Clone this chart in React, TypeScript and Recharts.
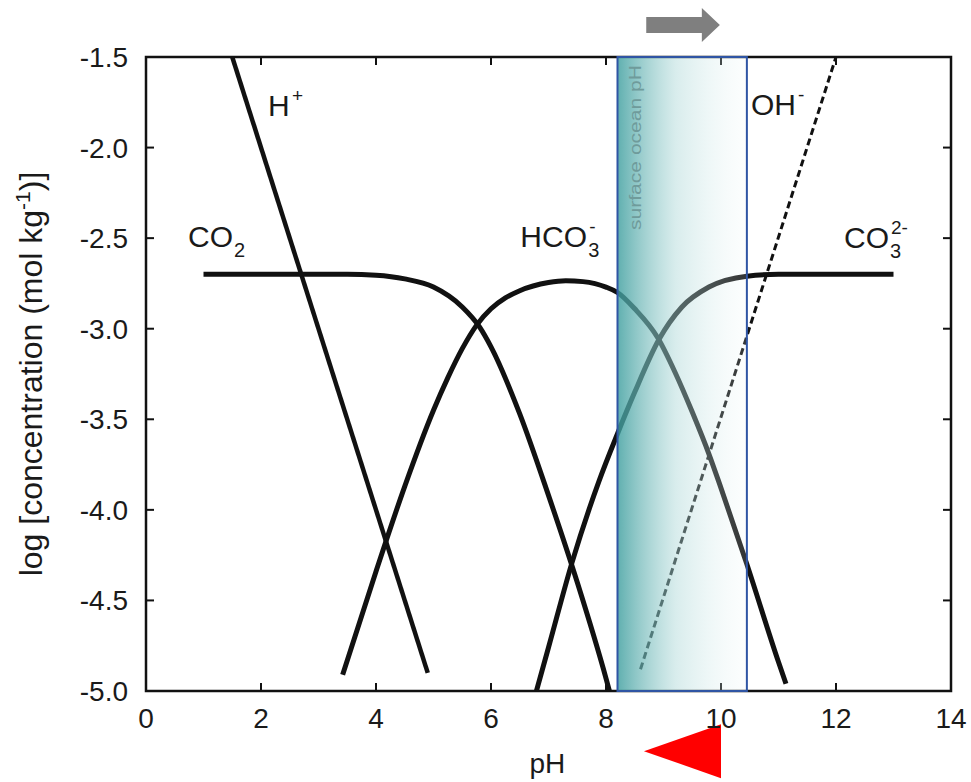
import React from 'react';
import { LineChart, Line, XAxis, YAxis, ReferenceArea, ReferenceDot, ReferenceLine } from 'recharts';

// ---- data (pH, log concentration) ----
const co2PH = [1.0, 2.0, 3.0, 3.5, 4.0, 4.5, 5.0, 5.5, 5.8, 6.0, 6.5, 7.0, 7.5, 8.0, 8.06];
const co2Log = [-2.7, -2.7, -2.7, -2.7, -2.705, -2.725, -2.77, -2.88, -2.99, -3.1, -3.47, -3.92, -4.4, -4.93, -5.0];

const hco3PH = [3.42, 4.0, 4.5, 5.0, 5.25, 5.5, 5.75, 6.0, 6.25, 6.5, 7.0, 7.3, 7.6, 8.0, 8.2, 8.5, 8.9, 9.2, 9.5, 9.8, 10.0, 10.45, 11.0, 11.13];
const hco3Log = [-4.91, -4.34, -3.87, -3.45, -3.27, -3.11, -2.98, -2.89, -2.83, -2.79, -2.745, -2.735, -2.74, -2.77, -2.8, -2.89, -3.05, -3.24, -3.46, -3.7, -3.88, -4.3, -4.84, -4.96];

const co3PH = [6.79, 7.0, 7.41, 7.88, 8.2, 8.5, 8.92, 9.32, 9.79, 10.45, 11.0, 12.0, 13.0];
const co3Log = [-5.0, -4.76, -4.29, -3.84, -3.58, -3.35, -3.06, -2.88, -2.77, -2.71, -2.7, -2.7, -2.7];

const hPH = [1.5, 4.9];
const hLog = [-1.5, -4.9];

const ohPH = [8.6, 12.0];
const ohLog = [-4.88, -1.5];

const xTicks = [0, 2, 4, 6, 8, 10, 12, 14];
const yTicks = [-5.0, -4.5, -4.0, -3.5, -3.0, -2.5, -2.0, -1.5];
const xDomain = [0, 14];
const yDomain = [-5, -1.5];

const surfaceBand = [8.2, 10.45];
const grayArrow = [8.7, 9.98, -1.323];
const redArrow = [8.66, 10.0, -5.332];

// label anchor points (pH, log)
const labelH = [2.12, -1.826];
const labelCO2 = [0.73, -2.549];
const labelHCO3 = [6.51, -2.549];
const labelOH = [10.52, -1.82];
const labelCO3 = [12.14, -2.555];
const labelBand = [8.61, -2.455];
const labelYTitle = [-1.806, -3.25];
const labelXTitle = [6.98, -5.453];

const mk = (xs: number[], ys: number[]) => xs.map((x, i) => ({ x, y: ys[i] }));

const co2Data = mk(co2PH, co2Log);
const hco3Data = mk(hco3PH, hco3Log);
const co3Data = mk(co3PH, co3Log);
const hData = mk(hPH, hLog);
const ohData = mk(ohPH, ohLog);

const FONT = '"Liberation Sans", Arial, Helvetica, sans-serif';
const TXT = '#1a1a1a';
const LS = 30;
const INK = '#111';

const speciesText = (main: string, mainW: number, sub?: string, sup?: string) => (p: any) => {
  const { cx, cy } = p;
  return (
    <g fontFamily={FONT} fill={TXT}>
      <text x={cx} y={cy} fontSize={LS}>{main}</text>
      {sub ? <text x={cx + mainW + 1} y={cy + 10} fontSize={20}>{sub}</text> : null}
      {sup ? <text x={cx + mainW + 2} y={cy - 14} fontSize={19}>{sup}</text> : null}
    </g>
  );
};

const bandText = (p: any) => {
  const { cx, cy } = p;
  return (
    <text
      x={cx}
      y={cy}
      transform={`rotate(-90, ${cx}, ${cy})`}
      fontFamily={FONT}
      fontSize={16}
      fill="#6f9b9b"
      textLength={165}
      lengthAdjust="spacingAndGlyphs"
    >
      surface ocean pH
    </text>
  );
};

const yTitle = (p: any) => {
  const { cx, cy } = p;
  return (
    <text
      x={cx}
      y={cy}
      transform={`rotate(-90, ${cx}, ${cy})`}
      fontFamily={FONT}
      fontSize={32}
      fill={TXT}
      textAnchor="middle"
    >
      log [concentration (mol kg
      <tspan dy={-12} fontSize={21}>-1</tspan>
      <tspan dy={12}>)]</tspan>
    </text>
  );
};

const xTitle = (p: any) => {
  const { cx, cy } = p;
  return (
    <text x={cx} y={cy} fontFamily={FONT} fontSize={28} fill={TXT} textAnchor="middle">
      pH
    </text>
  );
};

const grayArrowShape = (p: any) => {
  const { x1, y1, x2 } = p;
  const head = 18;
  const xs = x2 - head;
  const d = `M${x1},${y1 - 8} L${xs},${y1 - 8} L${xs},${y1 - 17} L${x2},${y1} L${xs},${y1 + 17} L${xs},${y1 + 8} L${x1},${y1 + 8} Z`;
  return <path d={d} fill="#7f7f7f" stroke="none" />;
};

const redArrowShape = (p: any) => {
  const { x1, y1, x2 } = p;
  const d = `M${x1},${y1} L${x2},${y1 - 27} L${x2},${y1 + 27} Z`;
  return <path d={d} fill="#ff0000" stroke="none" />;
};

// inward tick marks on both opposite frame sides
const TL = 8;
const vTickShape = (p: any) => {
  const { x1, y1, y2 } = p;
  const top = Math.min(y1, y2);
  const bot = Math.max(y1, y2);
  return (
    <g stroke={INK} strokeWidth={2}>
      <line x1={x1} y1={top} x2={x1} y2={top + TL} />
      <line x1={x1} y1={bot} x2={x1} y2={bot - TL} />
    </g>
  );
};
const hTickShape = (p: any) => {
  const { x1, x2, y1 } = p;
  const l = Math.min(x1, x2);
  const r = Math.max(x1, x2);
  return (
    <g stroke={INK} strokeWidth={2}>
      <line x1={l} y1={y1} x2={l + TL} y2={y1} />
      <line x1={r} y1={y1} x2={r - TL} y2={y1} />
    </g>
  );
};

const tickStyle = { fill: TXT, fontSize: 28, fontFamily: FONT };

export default function App() {
  return (
    <div style={{ position: 'absolute', left: 0, top: 0, width: 971, height: 782, background: '#fff' }}>
      <LineChart width={971} height={782} margin={{ top: 57, right: 20, bottom: 0, left: 0 }}>
        <defs>
          <linearGradient id="bandGrad" x1="0" y1="0" x2="1" y2="0">
            <stop offset="0%" stopColor="#3d9e9e" stopOpacity={0.82} />
            <stop offset="45%" stopColor="#a9d6d6" stopOpacity={0.45} />
            <stop offset="100%" stopColor="#eef7f7" stopOpacity={0.15} />
          </linearGradient>
        </defs>
        <XAxis
          xAxisId="b"
          type="number"
          dataKey="x"
          domain={xDomain}
          ticks={xTicks}
          allowDataOverflow
          height={91}
          axisLine={false}
          tickLine={false}
          tickSize={0}
          tickMargin={17}
          tick={tickStyle}
        />
        <YAxis
          yAxisId="l"
          type="number"
          domain={yDomain}
          ticks={yTicks}
          allowDataOverflow
          width={146}
          axisLine={false}
          tickLine={false}
          tickSize={0}
          tickMargin={18}
          tick={tickStyle}
          tickFormatter={(v: number) => v.toFixed(1)}
        />

        {/* frame */}
        <ReferenceArea
          xAxisId="b"
          yAxisId="l"
          x1={xDomain[0]}
          x2={xDomain[1]}
          y1={yDomain[0]}
          y2={yDomain[1]}
          fill="none"
          stroke={INK}
          strokeWidth={2.5}
          ifOverflow="visible"
        />
        {xTicks.slice(1, -1).map((t) => (
          <ReferenceLine key={`xt${t}`} xAxisId="b" yAxisId="l" x={t} ifOverflow="visible" shape={vTickShape} />
        ))}
        {yTicks.slice(1, -1).map((t) => (
          <ReferenceLine key={`yt${t}`} xAxisId="b" yAxisId="l" y={t} ifOverflow="visible" shape={hTickShape} />
        ))}

        <Line xAxisId="b" yAxisId="l" data={hData} dataKey="y" type="linear" stroke={INK} strokeWidth={4.5} dot={false} isAnimationActive={false} />
        <Line xAxisId="b" yAxisId="l" data={co2Data} dataKey="y" type="monotone" stroke={INK} strokeWidth={5} dot={false} isAnimationActive={false} />
        <Line xAxisId="b" yAxisId="l" data={hco3Data} dataKey="y" type="monotone" stroke={INK} strokeWidth={5} dot={false} isAnimationActive={false} />
        <Line xAxisId="b" yAxisId="l" data={co3Data} dataKey="y" type="monotone" stroke={INK} strokeWidth={5} dot={false} isAnimationActive={false} />
        <Line xAxisId="b" yAxisId="l" data={ohData} dataKey="y" type="linear" stroke={INK} strokeWidth={3} strokeDasharray="7 4" dot={false} isAnimationActive={false} />

        <ReferenceArea
          xAxisId="b"
          yAxisId="l"
          x1={surfaceBand[0]}
          x2={surfaceBand[1]}
          y1={yDomain[0]}
          y2={yDomain[1]}
          fill="url(#bandGrad)"
          fillOpacity={1}
          stroke="#2f55a4"
          strokeWidth={2}
          ifOverflow="visible"
          zIndex={600}
        />

        <ReferenceDot xAxisId="b" yAxisId="l" x={labelBand[0]} y={labelBand[1]} r={0} ifOverflow="visible" shape={bandText} zIndex={700} />
        <ReferenceDot xAxisId="b" yAxisId="l" x={labelH[0]} y={labelH[1]} r={0} ifOverflow="visible" shape={speciesText('H', 22, undefined, '+')} />
        <ReferenceDot xAxisId="b" yAxisId="l" x={labelCO2[0]} y={labelCO2[1]} r={0} ifOverflow="visible" shape={speciesText('CO', 45, '2')} />
        <ReferenceDot xAxisId="b" yAxisId="l" x={labelHCO3[0]} y={labelHCO3[1]} r={0} ifOverflow="visible" shape={speciesText('HCO', 67, '3', '-')} />
        <ReferenceDot xAxisId="b" yAxisId="l" x={labelOH[0]} y={labelOH[1]} r={0} ifOverflow="visible" shape={speciesText('OH', 45, undefined, '-')} />
        <ReferenceDot xAxisId="b" yAxisId="l" x={labelCO3[0]} y={labelCO3[1]} r={0} ifOverflow="visible" shape={speciesText('CO', 45, '3', '2-')} />
        <ReferenceDot xAxisId="b" yAxisId="l" x={labelYTitle[0]} y={labelYTitle[1]} r={0} ifOverflow="visible" shape={yTitle} />
        <ReferenceDot xAxisId="b" yAxisId="l" x={labelXTitle[0]} y={labelXTitle[1]} r={0} ifOverflow="visible" shape={xTitle} />

        <ReferenceLine
          xAxisId="b"
          yAxisId="l"
          segment={[{ x: grayArrow[0], y: grayArrow[2] }, { x: grayArrow[1], y: grayArrow[2] }]}
          ifOverflow="visible"
          shape={grayArrowShape}
          zIndex={700}
        />
        <ReferenceLine
          xAxisId="b"
          yAxisId="l"
          segment={[{ x: redArrow[0], y: redArrow[2] }, { x: redArrow[1], y: redArrow[2] }]}
          ifOverflow="visible"
          shape={redArrowShape}
          zIndex={700}
        />
      </LineChart>
    </div>
  );
}
